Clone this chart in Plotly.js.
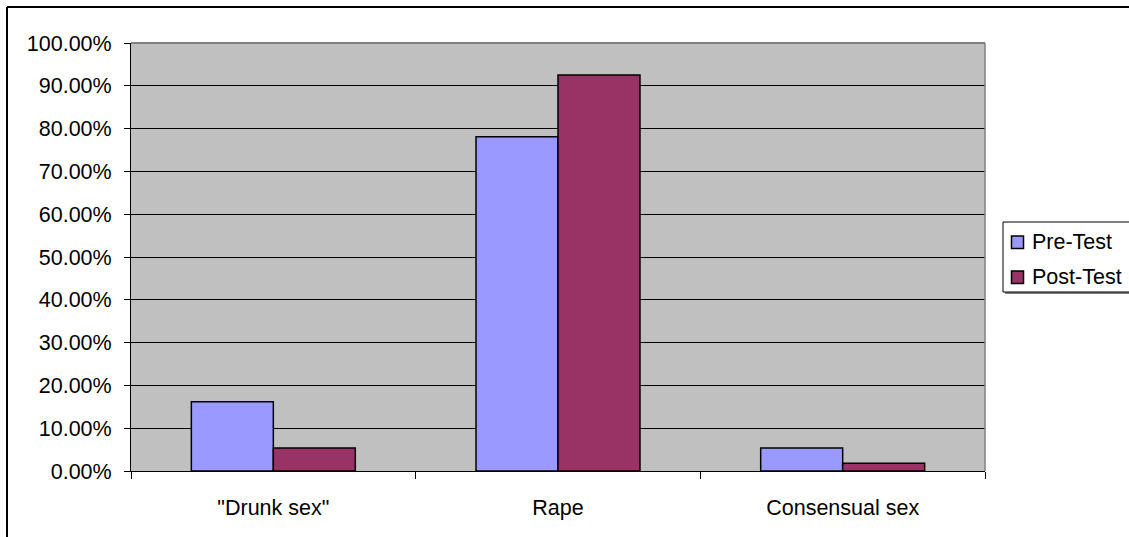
<!DOCTYPE html>
<html>
<head>
<meta charset="utf-8">
<script src="https://cdn.plot.ly/plotly-3.0.1.min.js"></script>
<style>
  html, body { margin: 0; padding: 0; background: #ffffff; }
  #chart { width: 1129px; height: 537px; }
</style>
</head>
<body>
<div id="chart"></div>
<script>
// Categories and series shares
const categories = ['"Drunk sex"', 'Rape', 'Consensual sex'];
const seriesNames = ['Pre-Test', 'Post-Test'];
const preTest = [0.162, 0.781, 0.054];
const postTest = [0.054, 0.925, 0.018];
const seriesColors = ['#9999FF', '#993366'];

// Plot-area geometry in pixels
const W = 1129, Hgt = 537;
const L = 131, R = 985, T = 43, B = 471;
const px2x = p => (p - L) / (R - L);
const px2y = p => (B - p) / (B - T);

const font = { family: 'Liberation Sans, Arial, sans-serif', size: 21.5, color: '#000000' };

const traces = [preTest, postTest].map((vals, i) => ({
  type: 'bar',
  name: seriesNames[i],
  x: categories,
  y: vals,
  showlegend: false,
  marker: { color: seriesColors[i], line: { color: '#000000', width: 1.5 } },
  hoverinfo: 'x+y+name'
}));

// Boxed legend at the right of the plot (runs past the right edge)
const legendBox = { x0: 1003, x1: 1140, y0: 222, y1: 292 };
const legendRows = [242, 277];
const legendShapes = [
  { type: 'rect', xref: 'paper', yref: 'paper',
    x0: px2x(legendBox.x0 + 2), x1: px2x(legendBox.x1 + 2), y0: px2y(legendBox.y1 + 2), y1: px2y(legendBox.y0 + 2),
    fillcolor: '#808080', line: { width: 0 }, layer: 'above' },
  { type: 'rect', xref: 'paper', yref: 'paper',
    x0: px2x(legendBox.x0), x1: px2x(legendBox.x1), y0: px2y(legendBox.y1), y1: px2y(legendBox.y0),
    fillcolor: '#ffffff', line: { color: '#000000', width: 1 }, layer: 'above' }
];
const legendAnnotations = [];
seriesNames.forEach((name, i) => {
  const cy = legendRows[i];
  legendShapes.push({
    type: 'rect', xref: 'paper', yref: 'paper',
    x0: px2x(1011.5), x1: px2x(1023.5), y0: px2y(cy + 6.5), y1: px2y(cy - 6),
    fillcolor: seriesColors[i], line: { color: '#000000', width: 1.5 }, layer: 'above'
  });
  legendAnnotations.push({
    xref: 'paper', yref: 'paper', x: px2x(1030), y: px2y(cy),
    xanchor: 'left', yanchor: 'middle', showarrow: false,
    text: name, font: font
  });
});

const layout = {
  width: W,
  height: Hgt,
  margin: { l: L, r: W - R, t: T, b: Hgt - B, pad: 0, autoexpand: false },
  paper_bgcolor: '#ffffff',
  plot_bgcolor: '#C0C0C0',
  font: font,
  barmode: 'group',
  bargap: 0.424,
  bargroupgap: 0,
  showlegend: false,
  xaxis: {
    type: 'category',
    showgrid: false,
    showline: true,
    linecolor: '#000000',
    linewidth: 1,
    ticks: 'outside',
    tickson: 'boundaries',
    ticklen: 7,
    tickcolor: '#000000',
    tickwidth: 1,
    ticklabelstandoff: 17,
    tickfont: font,
    zeroline: false
  },
  yaxis: {
    range: [0, 1],
    dtick: 0.1,
    tick0: 0,
    tickformat: '.2%',
    showgrid: true,
    gridcolor: '#000000',
    gridwidth: 1,
    showline: true,
    linecolor: '#000000',
    linewidth: 1,
    ticks: 'outside',
    ticklen: 6,
    tickcolor: '#000000',
    tickwidth: 1,
    ticklabelstandoff: 8,
    tickfont: font,
    zeroline: false
  },
  shapes: [
    // gray frame on the top and right of the plot area
    { type: 'line', xref: 'paper', yref: 'paper', x0: 0, x1: 1, y0: 1, y1: 1,
      line: { color: '#808080', width: 2 }, layer: 'above' },
    { type: 'line', xref: 'paper', yref: 'paper', x0: 1, x1: 1, y0: 0, y1: 1,
      line: { color: '#808080', width: 1.5 }, layer: 'above' },
    // outer chart frame (top and left edges)
    { type: 'line', xref: 'paper', yref: 'paper', x0: px2x(7), x1: px2x(W + 5), y0: px2y(7), y1: px2y(7),
      line: { color: '#000000', width: 2 }, layer: 'above' },
    { type: 'line', xref: 'paper', yref: 'paper', x0: px2x(7), x1: px2x(7), y0: px2y(7), y1: px2y(Hgt + 5),
      line: { color: '#000000', width: 2 }, layer: 'above' }
  ].concat(legendShapes),
  annotations: legendAnnotations
};

Plotly.newPlot('chart', traces, layout, { displayModeBar: false, staticPlot: true });
</script>
</body>
</html>
